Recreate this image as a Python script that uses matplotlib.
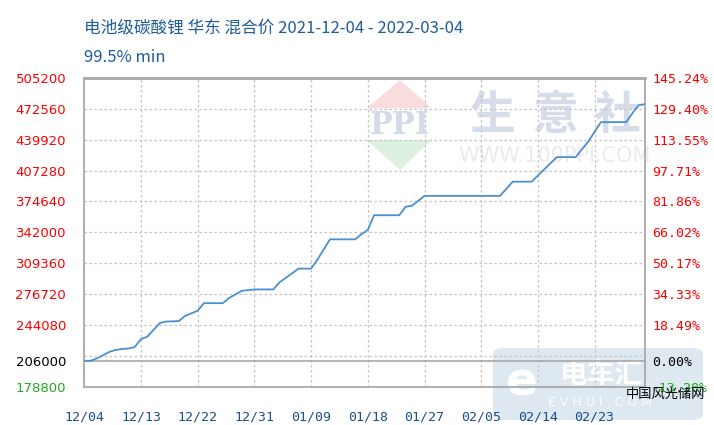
import pandas as pd
import matplotlib.pyplot as plt
from matplotlib.patches import Polygon, FancyBboxPatch

plt.rcParams['font.family'] = ['Noto Sans CJK SC', 'DejaVu Sans']

# Price readings (yuan/ton) at the vertices of the line
dates = ["2021-12-04", "2021-12-05", "2021-12-06", "2021-12-08", "2021-12-09",
         "2021-12-10", "2021-12-11", "2021-12-12", "2021-12-13", "2021-12-14",
         "2021-12-16", "2021-12-17", "2021-12-19", "2021-12-20", "2021-12-22",
         "2021-12-23", "2021-12-26", "2021-12-27", "2021-12-29", "2021-12-31",
         "2022-01-03", "2022-01-04", "2022-01-07", "2022-01-09", "2022-01-10",
         "2022-01-12", "2022-01-16", "2022-01-17", "2022-01-18", "2022-01-19",
         "2022-01-23", "2022-01-24", "2022-01-25", "2022-01-27", "2022-02-08",
         "2022-02-10", "2022-02-13", "2022-02-17", "2022-02-20", "2022-02-22",
         "2022-02-24", "2022-02-28", "2022-03-01", "2022-03-02", "2022-03-03"]
prices = [206000, 206000, 208500, 215500, 217500,
          218500, 219000, 220500, 229000, 231500,
          246000, 247500, 248000, 253500, 259000,
          267000, 267000, 272500, 280000, 281500,
          281500, 289000, 303500, 303500, 313000,
          334500, 334500, 340000, 344500, 360000,
          360000, 369000, 370000, 380500, 380500,
          395500, 395500, 421500, 421500, 438000,
          458500, 458500, 468000, 476500, 477500]

base_price = 206000
y_ticks = [178800, 206000, 244080, 276720, 309360, 342000, 374640, 407280, 439920, 472560, 505200]
grid_values = [211440, 244080, 276720, 309360, 342000, 374640, 407280, 439920, 472560]
x_tick_dates = ["2021-12-04", "2021-12-13", "2021-12-22", "2021-12-31", "2022-01-09",
                "2022-01-18", "2022-01-27", "2022-02-05", "2022-02-14", "2022-02-23"]

start = pd.Timestamp("2021-12-04")
days = [(pd.Timestamp(d) - start).days for d in dates]
x_ticks = [(pd.Timestamp(d) - start).days for d in x_tick_dates]
x_tick_labels = [pd.Timestamp(d).strftime("%m/%d") for d in x_tick_dates]

fig = plt.figure(figsize=(7.14, 4.25), dpi=100)
ax = fig.add_axes([84.3 / 714, 1 - 386.5 / 425, (645 - 84.3) / 714, (386.5 - 78) / 425])
ax.set_facecolor('none')
ax.set_xlim(0, 89)
ax.set_ylim(178800, 505200)

# watermark: PPI logo and 生意社 (pixel coords from top-left)
def px(points):
    return [(x, 425 - y) for x, y in points]

fig.patches.append(Polygon(px([(366.7, 108.3), (400, 80), (431.7, 108.3)]), closed=True,
                           transform=None, facecolor='#f9dcdc', edgecolor='none', zorder=-2))
fig.patches.append(Polygon(px([(366.7, 140), (400, 170), (431.7, 140)]), closed=True,
                           transform=None, facecolor='#dcf1df', edgecolor='none', zorder=-2))
fig.text(400 / 714, 1 - 126 / 425, "PPI", fontsize=22, fontweight='bold', family='DejaVu Serif',
         color='#d3dbea', ha='center', va='center', zorder=-1)
for ch, cx in zip("生意社", [493, 555, 617]):
    fig.text(cx / 714, 1 - 116 / 425, ch, fontsize=33, color='#d6dcea', ha='center', va='center',
             fontweight='bold', zorder=-1)
fig.text(554 / 714, 1 - 156 / 425, "WWW.100PPI.COM", fontsize=15, color='#ebebeb',
         ha='center', va='center', family='DejaVu Sans', zorder=-1)

# bottom-right watermark, under the axes
fig.patches.append(FancyBboxPatch((493 / 714, 1 - 420 / 425), 210 / 714, 72 / 425,
                                  boxstyle="round,pad=0,rounding_size=0.015",
                                  transform=fig.transFigure, facecolor='#dde8f1',
                                  edgecolor='none', zorder=-2))
fig.text(548 / 714, 1 - 403 / 425, "E V H U I . C O M", fontsize=9, color='white',
         ha='left', va='center', family='DejaVu Sans', zorder=-1)
fig.text(560 / 714, 1 - 375 / 425, "电车汇", fontsize=20, color='white', fontweight='bold',
         ha='left', va='center', zorder=-1)
fig.text(522 / 714, 1 - 383 / 425, "e", fontsize=34, color='white', fontweight='bold',
         family='DejaVu Sans', ha='center', va='center', zorder=-1)

# grid
for v in grid_values:
    ax.axhline(v, color='#c4c4c4', lw=0.9, ls=(0, (2, 2)), zorder=1)
for t in x_ticks[1:]:
    ax.axvline(t, color='#c4c4c4', lw=0.9, ls=(0, (2, 2)), zorder=1)
ax.axhline(base_price, color='#a8a8a8', lw=1.2, zorder=1)

ax.plot(days, prices, color='#4a90d0', lw=1.3, zorder=3)

for s in ax.spines.values():
    s.set_color('#a8a8a8')
    s.set_linewidth(1.3)
ax.spines['top'].set_linewidth(2)

ax.set_yticks(y_ticks)
ax.set_yticklabels([str(v) for v in y_ticks], fontsize=9.5, family='DejaVu Sans')
for lab, v in zip(ax.get_yticklabels(), y_ticks):
    lab.set_color('black' if v == base_price else ('#22aa22' if v < base_price else '#ff0000'))
ax.tick_params(axis='y', length=0, pad=13)

ax.set_xticks(x_ticks)
ax.set_xticklabels(x_tick_labels, fontsize=9.5, family='DejaVu Sans Mono', color='#1f4e8c')
ax.tick_params(axis='x', length=0, pad=17)

ax2 = ax.twinx()
ax2.set_facecolor('none')
ax2.set_ylim(ax.get_ylim())
ax2.set_yticks(y_ticks)
ax2.set_yticklabels(["%.2f%%" % ((v - base_price) / base_price * 100) for v in y_ticks],
                    fontsize=9.5, family='DejaVu Sans Mono')
for lab, v in zip(ax2.get_yticklabels(), y_ticks):
    lab.set_color('black' if v == base_price else ('#22aa22' if v < base_price else '#ff0000'))
ax2.tick_params(axis='y', length=0, pad=5)
for s in ax2.spines.values():
    s.set_visible(False)

# title
fig.text(84 / 714, 1 - 28 / 425, "电池级碳酸锂 华东 混合价 2021-12-04 - 2022-03-04",
         fontsize=12, color='#1f5c99', ha='left', va='center')
fig.text(84 / 714, 1 - 57 / 425, "99.5% min", fontsize=12, color='#1f5c99', ha='left', va='center')

fig.text(705 / 714, 1 - 394 / 425, "中国风光储网", fontsize=9.5, color='black',
         ha='right', va='center', zorder=7)

fig.savefig("out.png", dpi=100)
